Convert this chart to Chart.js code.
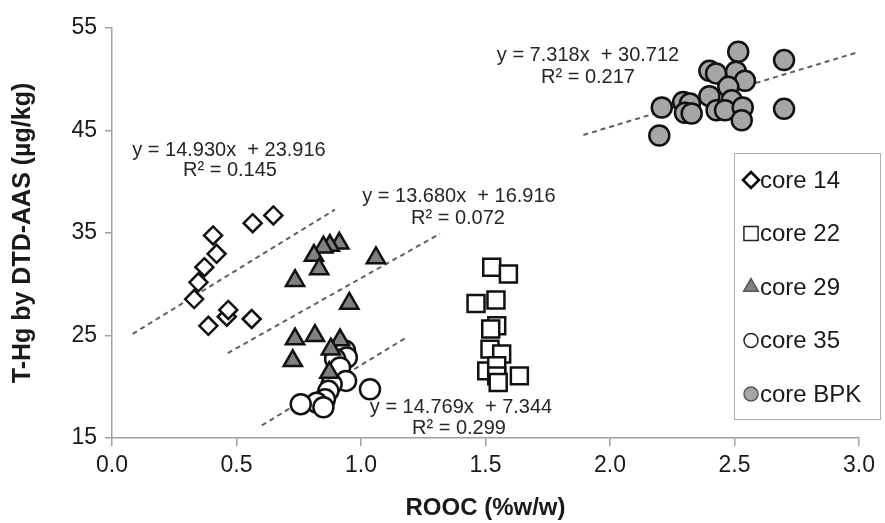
<!DOCTYPE html>
<html>
<head>
<meta charset="utf-8">
<script src="https://cdn.jsdelivr.net/npm/chart.js@4/dist/chart.umd.min.js"></script>
<style>
  html, body { margin: 0; padding: 0; background: #fff; }
  #wrap { width: 885px; height: 523px; position: relative; }
</style>
</head>
<body>
<div id="wrap"><canvas id="c" width="885" height="523"></canvas></div>
<script>
// ---------------- DATA ----------------
const seriesNames = ['core 14', 'core 22', 'core 29', 'core 35', 'core BPK'];

const core14X = [0.406, 0.420, 0.371, 0.347, 0.330, 0.565, 0.648, 0.387, 0.461, 0.467, 0.561];
const core14Y = [34.76, 32.97, 31.66, 30.19, 28.56, 35.96, 36.71, 25.95, 26.83, 27.49, 26.61];

const core22X = [1.525, 1.592, 1.462, 1.542, 1.545, 1.521, 1.518, 1.565, 1.505, 1.545, 1.545, 1.551, 1.636];
const core22Y = [31.66, 31.01, 28.13, 28.47, 25.95, 25.63, 23.67, 23.19, 21.55, 22.04, 21.06, 20.41, 21.06];

const core29X = [0.913, 0.875, 0.849, 0.811, 0.832, 1.060, 0.735, 0.953, 0.735, 0.815, 0.916, 0.879, 0.726, 0.873];
const core29Y = [34.00, 33.78, 33.61, 32.80, 31.50, 32.57, 30.35, 28.13, 24.65, 24.98, 24.55, 23.67, 22.53, 21.39];

const core35X = [0.936, 0.943, 0.896, 0.916, 0.940, 1.036, 0.882, 0.869, 0.855, 0.822, 0.849, 0.758];
const core35Y = [23.51, 22.85, 22.70, 21.88, 20.57, 19.76, 20.25, 19.60, 18.79, 18.45, 18.00, 18.30];

const coreBPKX = [2.515, 2.699, 2.399, 2.426, 2.506, 2.542, 2.475, 2.399, 2.489, 2.294, 2.321, 2.208, 2.301, 2.328, 2.428, 2.462, 2.533, 2.529, 2.699, 2.198];
const coreBPKY = [52.68, 51.87, 50.82, 50.57, 50.73, 49.85, 49.26, 48.35, 47.96, 47.79, 47.64, 47.24, 46.72, 46.66, 46.98, 46.98, 47.24, 46.00, 47.11, 44.51];

// linear trendlines (core 14, core 29, core 35, core BPK)
const trendSlopes     = [14.930, 13.680, 14.769, 7.318];
const trendIntercepts = [23.916, 16.916, 7.344, 30.712];
const trendR2         = ['0.145', '0.072', '0.299', '0.217'];
const trendXStart     = [0.083, 0.465, 0.602, 1.893];
const trendXEnd       = [0.895, 1.317, 1.180, 3.000];

const xTicks = [0.0, 0.5, 1.0, 1.5, 2.0, 2.5, 3.0];
const yTicks = [15, 25, 35, 45, 55];

// ---------------- STYLES / LAYOUT ----------------
const FONT = '"Liberation Sans", Arial, sans-serif';
const markerStyles = [
  { pointStyle: 'rectRot',  radius: 9,    fill: '#ffffff', lr: 8 },
  { pointStyle: 'rect',     radius: 12,   fill: '#ffffff', lr: 10 },
  { pointStyle: 'triangle', radius: 10.5, fill: '#808080', lr: 8.5 },
  { pointStyle: 'circle',   radius: 10,   fill: '#ffffff', lr: 7 },
  { pointStyle: 'circle',   radius: 10,   fill: '#a6a6a6', lr: 7 }
];
// equation label placement (pixel centres for each text line)
const eqLabelPos = [
  [[229, 150], [230, 170]],
  [[459, 196], [458, 218]],
  [[461, 407], [459, 428]],
  [[588, 55],  [588, 77]]
];

function pts(xs, ys) { return xs.map((x, i) => ({ x: x, y: ys[i] })); }
const allX = [core14X, core22X, core29X, core35X, coreBPKX];
const allY = [core14Y, core22Y, core29Y, core35Y, coreBPKY];

const datasets = [];
seriesNames.forEach((name, i) => {
  const m = markerStyles[i];
  datasets.push({
    type: 'scatter',
    label: name,
    data: pts(allX[i], allY[i]),
    pointStyle: m.pointStyle,
    pointRadius: m.radius,
    pointHoverRadius: m.radius,
    backgroundColor: m.fill,
    borderColor: '#111111',
    pointBorderWidth: 2.5,
    borderWidth: 2.5,
    order: 1
  });
});
trendSlopes.forEach((s, i) => {
  const b = trendIntercepts[i];
  datasets.push({
    type: 'line',
    label: 'trend' + i,
    data: [trendXStart[i], trendXEnd[i]].map(x => ({ x: x, y: s * x + b })),
    borderColor: '#606060',
    borderWidth: 2,
    borderDash: [5, 4],
    pointRadius: 0,
    fill: false,
    order: 5
  });
});

function drawMarker(ctx, style, x, y, r, fill) {
  ctx.save();
  ctx.beginPath();
  if (style === 'rectRot') {
    ctx.moveTo(x, y - r); ctx.lineTo(x + r, y); ctx.lineTo(x, y + r); ctx.lineTo(x - r, y); ctx.closePath();
  } else if (style === 'rect') {
    const h = r * Math.SQRT1_2;
    ctx.rect(x - h, y - h, 2 * h, 2 * h);
  } else if (style === 'triangle') {
    ctx.moveTo(x, y - r);
    ctx.lineTo(x + r * Math.sin(2 * Math.PI / 3), y - r * Math.cos(2 * Math.PI / 3));
    ctx.lineTo(x + r * Math.sin(4 * Math.PI / 3), y - r * Math.cos(4 * Math.PI / 3));
    ctx.closePath();
  } else {
    ctx.arc(x, y, r, 0, Math.PI * 2);
  }
  ctx.fillStyle = fill;
  ctx.fill();
  ctx.lineWidth = style === 'rectRot' ? 2.5 : 1.5;
  ctx.strokeStyle = style === 'triangle' || (style === 'circle' && fill !== '#ffffff') ? '#555' : '#222';
  if (style === 'rectRot') ctx.strokeStyle = '#000';
  ctx.stroke();
  ctx.restore();
}

const overlay = {
  id: 'overlay',
  afterDraw(chart) {
    const ctx = chart.ctx;
    ctx.save();
    // equation labels
    ctx.font = '20px ' + FONT;
    ctx.fillStyle = '#262626';
    ctx.textAlign = 'center';
    ctx.textBaseline = 'middle';
    trendSlopes.forEach((s, i) => {
      const p = eqLabelPos[i];
      const eq = 'y = ' + s.toFixed(3) + 'x  + ' + trendIntercepts[i].toFixed(3);
      ctx.fillText(eq, p[0][0], p[0][1]);
      ctx.fillText('R\u00B2 = ' + trendR2[i], p[1][0], p[1][1]);
    });
    // legend box
    const bx = 734, by = 153, bw = 146, bh = 266;
    ctx.fillStyle = '#ffffff';
    ctx.fillRect(bx, by, bw, bh);
    ctx.strokeStyle = '#b0b0b0';
    ctx.lineWidth = 1;
    ctx.strokeRect(bx + 0.5, by + 0.5, bw, bh);
    ctx.font = '24px ' + FONT;
    ctx.textAlign = 'left';
    ctx.textBaseline = 'middle';
    seriesNames.forEach((name, i) => {
      const yy = 180 + i * 53.5;
      const m = markerStyles[i];
      drawMarker(ctx, m.pointStyle, 751, yy, m.lr, m.fill);
      ctx.fillStyle = '#1a1a1a';
      ctx.fillText(name, 760, yy + 1);
    });
    ctx.restore();
  }
};

new Chart(document.getElementById('c'), {
  data: { datasets: datasets },
  options: {
    responsive: false,
    animation: false,
    events: [],
    layout: { padding: { left: 0, right: 26, top: 28, bottom: 0 } },
    plugins: { legend: { display: false }, tooltip: { enabled: false } },
    scales: {
      x: {
        type: 'linear',
        min: 0, max: 3,
        afterBuildTicks(scale) { scale.ticks = xTicks.map(v => ({ value: v })); },
        afterFit(scale) { scale.height = 85; },
        ticks: {
          callback: v => v.toFixed(1),
          font: { family: FONT, size: 23 },
          color: '#1a1a1a',
          padding: 6,
          maxRotation: 0,
          autoSkip: false
        },
        grid: { display: true, drawOnChartArea: false, drawTicks: true, tickLength: 8, color: '#a0a0a0', lineWidth: 1.5 },
        border: { display: true, color: '#a0a0a0', width: 1.5 },
        title: {
          display: true,
          text: 'ROOC (%w/w)',
          font: { family: FONT, size: 24, weight: 'bold' },
          color: '#1a1a1a',
          padding: { top: 2, bottom: 0 }
        }
      },
      y: {
        type: 'linear',
        min: 15, max: 55,
        afterBuildTicks(scale) { scale.ticks = yTicks.map(v => ({ value: v })); },
        afterFit(scale) { scale.width = 112; },
        ticks: {
          font: { family: FONT, size: 23 },
          color: '#1a1a1a',
          padding: 8
        },
        grid: { display: true, drawOnChartArea: false, drawTicks: true, tickLength: 7, color: '#a0a0a0', lineWidth: 1.5 },
        border: { display: true, color: '#a0a0a0', width: 1.5 },
        title: {
          display: true,
          text: 'T-Hg by DTD-AAS (\u00B5g/kg)',
          font: { family: FONT, size: 25, weight: 'bold' },
          color: '#1a1a1a',
          padding: { top: 8, bottom: 0 }
        }
      }
    }
  },
  plugins: [overlay]
});
</script>
</body>
</html>
